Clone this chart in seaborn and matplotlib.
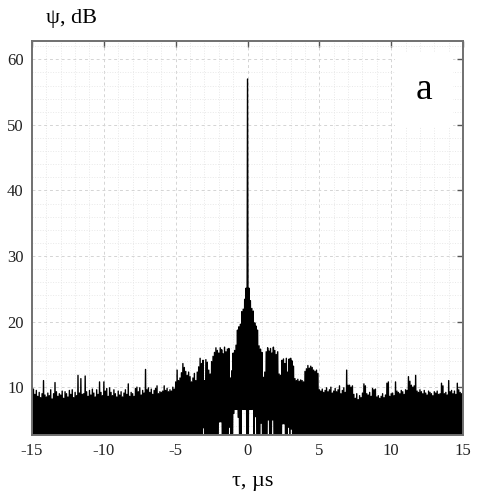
import numpy as np
import pandas as pd
import matplotlib
matplotlib.use("Agg")
import matplotlib.pyplot as plt
from matplotlib.ticker import MultipleLocator
import seaborn as sns

# delay axis, 0.1 us step from -15 to 15
tau_start, tau_step = -15.0, 0.1

# local maxima of psi (dB), one per 0.1 us
peaks = [
    10.2, 9.7, 8.9, 9.5, 8.6, 9.2, 8.4, 9.0, 11.0, 8.8,      # -15.0 .. -14.1
    8.5, 9.1, 8.7, 9.6, 8.2, 9.0, 10.7, 9.3, 8.6, 9.0,       # -14.0 .. -13.1
    8.8, 9.4, 8.3, 9.3, 9.0, 8.5, 9.5, 8.9, 9.6, 8.4,        # -13.0 .. -12.1
    9.2, 8.7, 11.8, 9.1, 11.3, 8.9, 9.0, 11.7, 9.3, 8.6,     # -12.0 .. -11.1
    9.5, 8.8, 9.7, 9.1, 8.5, 9.6, 8.9, 10.8, 9.2, 8.7,       # -11.0 .. -10.1
    10.8, 9.4, 9.8, 8.6, 9.9, 9.2, 8.7, 9.6, 9.0, 8.5,       # -10.0 .. -9.1
    9.4, 8.8, 9.3, 8.5, 9.1, 9.6, 8.9, 10.5, 8.6, 9.2,       # -9.0 .. -8.1
    9.0, 8.6, 9.8, 10.0, 9.3, 9.9, 8.8, 9.5, 9.1, 12.7,      # -8.0 .. -7.1
    9.6, 9.9, 9.2, 9.7, 8.9, 9.5, 9.8, 10.2, 9.0, 9.3,       # -7.0 .. -6.1
    9.2, 9.4, 10.2, 9.5, 9.8, 9.3, 9.6, 9.4, 10.0, 9.7,      # -6.0 .. -5.1
    10.8, 12.6, 11.0, 11.4, 12.2, 13.6, 13.0, 12.4, 11.8, 12.3,  # -5.0 .. -4.1
    11.6, 10.8, 11.4, 12.1, 11.0, 12.3, 13.1, 14.4, 13.6, 14.1,  # -4.0 .. -3.1
    11.0, 14.2, 13.8, 12.6, 12.0, 13.9, 14.7, 15.3, 16.0, 15.6,  # -3.0 .. -2.1
    15.2, 16.0, 15.7, 15.1, 16.1, 15.4, 15.8, 15.9, 11.4, 12.5,  # -2.0 .. -1.1
    15.2, 15.6, 16.4, 18.7, 19.2, 19.6, 21.5, 21.9, 23.4, 25.1,  # -1.0 .. -0.1
    57.0,                                                        # 0.0
    25.1, 23.2, 22.0, 21.6, 19.8, 19.3, 18.7, 16.3, 15.8, 15.3,  # 0.1 .. 1.0
    11.5, 12.3, 15.4, 16.0, 15.5, 15.9, 15.2, 16.1, 15.6, 15.0,  # 1.1 .. 2.0
    15.4, 12.0, 11.8, 14.1, 14.3, 13.6, 14.4, 12.3, 14.3, 14.4,  # 2.1 .. 3.0
    14.0, 13.2, 11.3, 11.0, 11.2, 10.9, 11.1, 11.0, 10.8, 12.4,  # 3.1 .. 4.0
    12.8, 13.3, 12.9, 13.2, 13.0, 12.6, 12.4, 12.6, 12.1, 9.6,   # 4.1 .. 5.0
    9.4, 9.7, 9.2, 9.5, 9.9, 9.3, 9.6, 10.0, 9.1, 9.4,           # 5.1 .. 6.0
    9.8, 9.3, 9.6, 10.2, 9.0, 9.5, 9.9, 9.2, 12.6, 10.3,         # 6.1 .. 7.0
    10.3, 10.0, 10.2, 8.9, 8.3, 9.0, 8.1, 8.7, 8.4, 9.1,         # 7.1 .. 8.0
    10.5, 10.2, 9.0, 8.8, 9.2, 8.6, 9.8, 9.6, 9.7, 8.5,          # 8.1 .. 9.0
    8.7, 8.3, 8.6, 9.0, 8.4, 8.8, 10.6, 10.8, 8.6, 9.0,          # 9.1 .. 10.0
    9.1, 8.7, 10.8, 9.4, 9.2, 9.0, 9.5, 9.3, 8.9, 9.6,           # 10.1 .. 11.0
    9.5, 11.6, 10.9, 10.3, 10.0, 10.2, 11.8, 9.4, 9.2, 9.6,      # 11.1 .. 12.0
    9.3, 9.0, 9.5, 9.1, 8.8, 9.4, 9.2, 9.0, 8.7, 9.3,            # 12.1 .. 13.0
    9.1, 9.4, 8.9, 9.0, 10.6, 10.2, 9.0, 9.2, 8.8, 11.0,         # 13.1 .. 14.0
    9.3, 9.5, 9.0, 9.4, 8.9, 10.6, 9.6, 9.2, 9.0, 9.4,           # 14.1 .. 15.0
]

# minima between the maxima; most fall below the axis floor
trough_floor = 0.0
# the few minima near the main lobe that stay above the floor
gap_tau = [-3.1, -2.0, -1.9, -1.3, -1.0, -0.9, -0.8, -0.7, -0.4, -0.3, -0.2,
           0.1, 0.2, 0.3, 0.5, 0.9, 1.4, 1.7, 2.4, 2.5, 2.8, 3.0]
gap_level = [3.8, 4.7, 4.7, 3.9, 6.0, 6.6, 6.6, 5.4, 6.6, 6.6, 6.6,
             6.6, 6.6, 6.6, 5.5, 4.5, 5.0, 5.0, 4.4, 4.4, 3.9, 3.6]

x_ticks = [-15, -10, -5, 0, 5, 10, 15]
y_ticks = [10, 20, 30, 40, 50, 60]

# build the oscillating trace: maximum, then the minimum half a step later
n = len(peaks)
tau = tau_start + tau_step * np.arange(n)
troughs = np.full(n, trough_floor)
for t, lv in zip(gap_tau, gap_level):
    troughs[int(round((t - tau_start) / tau_step))] = lv

xs, ys = [], []
for i in range(n):
    xs += [tau[i], tau[i] + tau_step / 2]
    ys += [peaks[i], troughs[i]]
df = pd.DataFrame({"tau": xs, "psi": ys})

sns.set_style("white")
plt.rcParams["font.family"] = ["Liberation Serif", "DejaVu Serif"]
plt.rcParams["axes.unicode_minus"] = False
plt.rcParams["text.color"] = "black"

fig = plt.figure(figsize=(4.8, 4.95), dpi=100)
ax = fig.add_axes([0.0667, 0.1212, 0.898, 0.796])

sns.lineplot(data=df, x="tau", y="psi", ax=ax, color="black", lw=1.0,
             estimator=None, sort=False)

ax.set_xlim(-15, 15)
ax.set_ylim(2.7, 62.8)
ax.set_xticks(x_ticks)
ax.set_yticks(y_ticks)
ax.xaxis.set_minor_locator(MultipleLocator(1))
ax.yaxis.set_minor_locator(MultipleLocator(2))
ax.grid(which="major", color="#d4d4d4", ls=(0, (3, 3)), lw=0.7)
ax.grid(which="minor", color="#e8e8e8", ls=":", lw=0.7)
ax.set_axisbelow(True)
ax.tick_params(which="major", direction="in", length=4, width=1,
               top=True, right=True, labelsize=12, color="#555555",
               labelcolor="#222222", pad=6)
ax.tick_params(which="minor", length=0)
for s in ax.spines.values():
    s.set_color("#707070")
    s.set_linewidth(1.4)
ax.set_xlabel("")
ax.set_ylabel("")

fig.text(0.095, 0.963, "ψ, dB", fontsize=16, ha="left", va="center")
fig.text(0.527, 0.028, "τ, µs", fontsize=16, ha="center", va="center")

ax.text(12.3, 55.4, "a", fontsize=27, ha="center", va="center",
        bbox=dict(boxstyle="square,pad=0.55", fc="white", ec="none"))

fig.savefig("out.png", dpi=100)
